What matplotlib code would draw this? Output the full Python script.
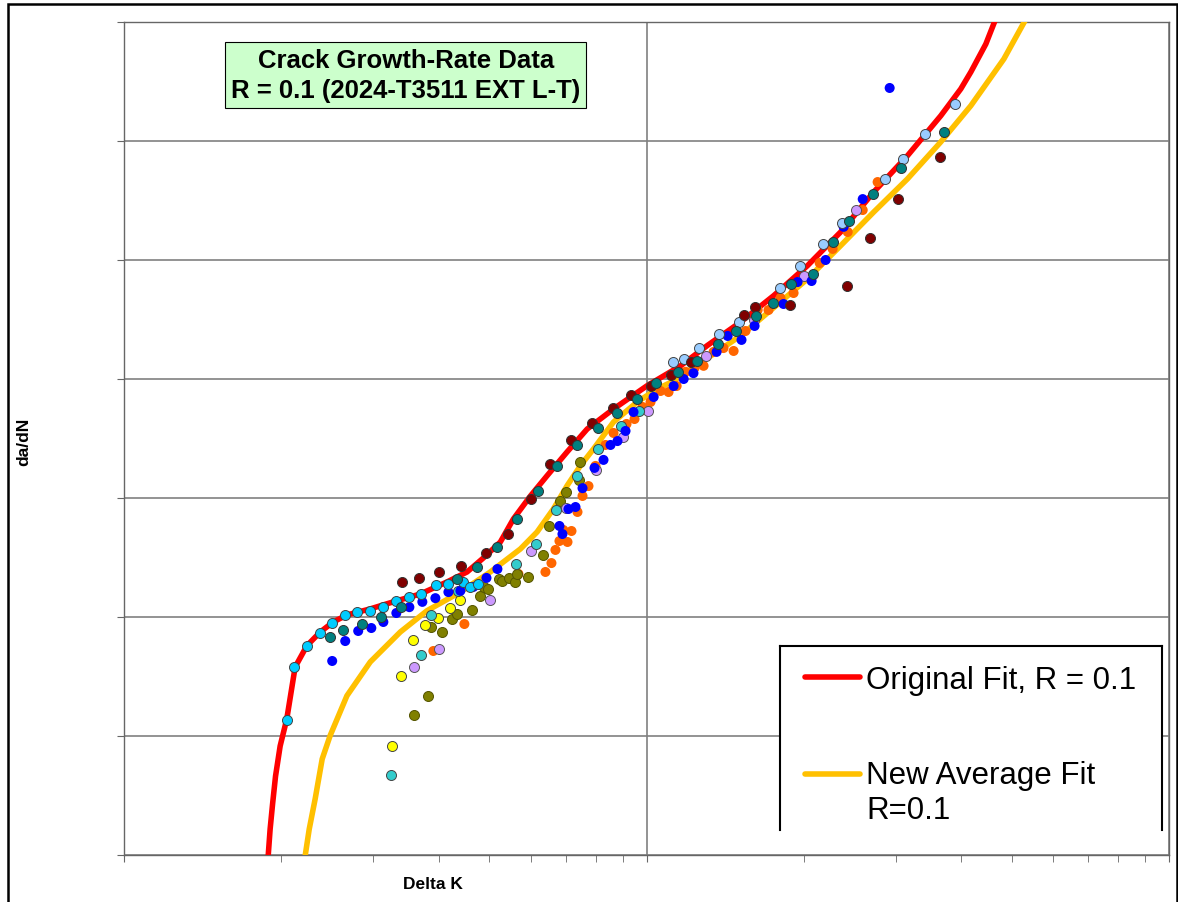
import numpy as np
import matplotlib
matplotlib.use('Agg')
import matplotlib.pyplot as plt
from matplotlib.patches import Rectangle
from matplotlib.lines import Line2D
from matplotlib.legend_handler import HandlerLine2D

plt.rcParams['font.family'] = ['Liberation Sans', 'DejaVu Sans']

# --- test data (Delta K, da/dN) per specimen ---
maroon_dk = [3.41, 3.675, 4.015, 4.42, 4.94, 5.42, 6.00, 6.549, 7.185, 7.85, 8.61, 9.36, 10.18, 11.12,
             12.14, 15.34, 16.10, 18.78, 24.16, 26.73, 30.25, 36.41]
maroon_dadn = [1.97e-7, 2.13e-7, 2.39e-7, 2.68e-7, 3.45e-7, 4.98e-7, 9.81e-7, 1.93e-6, 3.07e-6, 4.27e-6,
               5.70e-6, 7.34e-6, 8.73e-6, 1.08e-5, 1.39e-5, 3.45e-5, 4.03e-5, 4.19e-5, 6.04e-5, 1.53e-4,
               3.25e-4, 7.34e-4]

teal_dk = [2.481, 2.627, 2.857, 3.108, 3.395, 4.346, 4.747, 5.184, 5.663, 6.211, 6.755, 7.378, 8.058, 8.762,
           9.57, 10.45, 11.47, 12.47, 13.68, 14.81, 16.17, 17.50, 18.87, 20.79, 22.71, 24.37, 27.09, 30.65, 37.06]
teal_dadn = [6.79e-8, 7.77e-8, 8.73e-8, 1.0e-7, 1.21e-7, 2.09e-7, 2.63e-7, 3.87e-7, 6.66e-7, 1.15e-6, 1.86e-6,
             2.79e-6, 3.87e-6, 5.18e-6, 6.79e-6, 9.26e-6, 1.15e-5, 1.42e-5, 1.97e-5, 2.53e-5, 3.39e-5, 4.35e-5,
             6.28e-5, 7.63e-5, 1.42e-4, 2.13e-4, 3.58e-4, 5.93e-4, 1.19e-3]

cyan_dk = [2.053, 2.117, 2.242, 2.374, 2.503, 2.651, 2.795, 2.961, 3.136, 3.321, 3.517, 3.708, 3.962, 4.177,
           4.462, 4.602, 4.768]
cyan_dadn = [1.36e-8, 3.80e-8, 5.70e-8, 7.34e-8, 8.90e-8, 1.04e-7, 1.10e-7, 1.12e-7, 1.21e-7, 1.36e-7, 1.47e-7,
             1.56e-7, 1.86e-7, 1.90e-7, 1.97e-7, 1.79e-7, 1.90e-7]

turq_dk = [3.248, 3.708, 3.875, 4.365, 5.638, 6.158, 6.725, 7.378, 8.058, 8.918, 9.655]
turq_dadn = [4.70e-9, 4.80e-8, 1.04e-7, 1.66e-7, 2.79e-7, 4.10e-7, 7.93e-7, 1.53e-6, 2.58e-6, 4.03e-6, 5.38e-6]

blue_dk = [2.503, 2.651, 2.807, 2.974, 3.136, 3.321, 3.517, 3.724, 3.944, 4.177, 4.404, 4.663, 4.94, 5.184,
           6.814, 6.905, 7.09, 7.313, 7.543, 7.952, 8.274, 8.533, 8.80, 9.117, 9.444, 10.32, 11.27, 11.78,
           12.30, 13.62, 14.30, 15.20, 16.10, 18.29, 19.46, 20.70, 22.02, 23.84, 25.93, 29.20]
blue_dadn = [4.27e-8, 6.28e-8, 7.63e-8, 8.08e-8, 9.08e-8, 1.08e-7, 1.21e-7, 1.34e-7, 1.44e-7, 1.62e-7, 1.66e-7,
             1.79e-7, 2.13e-7, 2.53e-7, 5.82e-7, 4.98e-7, 8.08e-7, 8.40e-7, 1.21e-6, 1.79e-6, 2.09e-6, 2.79e-6,
             3.01e-6, 3.66e-6, 5.28e-6, 7.06e-6, 8.73e-6, 1.0e-5, 1.12e-5, 1.69e-5, 2.30e-5, 2.13e-5, 2.79e-5,
             4.27e-5, 6.53e-5, 6.66e-5, 1.0e-4, 1.90e-4, 3.25e-4, 2.79e-3]

yellow_dk = [3.263, 3.395, 3.579, 3.774, 3.997, 4.214, 4.404]
yellow_dadn = [8.24e-9, 3.19e-8, 6.41e-8, 8.57e-8, 9.81e-8, 1.19e-7, 1.39e-7]

olive_dk = [3.596, 3.824, 3.875, 4.068, 4.251, 4.346, 4.643, 4.81, 4.896, 4.983, 5.23, 5.30, 5.466, 5.613,
            5.663, 5.944, 6.35, 6.52, 6.844, 7.028, 7.443, 7.476]
olive_dadn = [1.50e-8, 2.17e-8, 8.24e-8, 7.48e-8, 9.62e-8, 1.06e-7, 1.15e-7, 1.50e-7, 1.79e-7, 1.72e-7, 2.09e-7,
              2.01e-7, 2.13e-7, 1.97e-7, 2.30e-7, 2.17e-7, 3.32e-7, 5.82e-7, 9.44e-7, 1.12e-6, 1.42e-6, 2.01e-6]

orange_dk = [3.909, 4.482, 5.687, 6.406, 6.578, 6.695, 6.814, 7.06, 7.185, 6.935, 7.378, 7.543, 7.744, 7.987,
             8.347, 8.647, 9.157, 9.486, 9.827, 10.18, 10.64, 11.02, 11.42, 11.88, 12.36, 12.86, 13.44, 14.04,
             14.68, 15.47, 16.32, 17.12, 18.05, 19.12, 21.45, 22.71, 24.27, 25.93, 27.69]
orange_dadn = [5.18e-8, 8.73e-8, 2.30e-7, 2.39e-7, 2.84e-7, 3.66e-7, 4.35e-7, 4.27e-7, 5.28e-7, 5.38e-7,
               7.63e-7, 1.04e-6, 1.26e-6, 1.86e-6, 2.79e-6, 3.52e-6, 4.19e-6, 4.61e-6, 5.82e-6, 6.41e-6,
               7.93e-6, 7.77e-6, 8.73e-6, 1.15e-5, 1.24e-5, 1.29e-5, 1.69e-5, 1.82e-5, 1.72e-5, 2.53e-5,
               3.80e-5, 3.80e-5, 4.80e-5, 5.28e-5, 9.44e-5, 1.24e-4, 1.72e-4, 2.63e-4, 4.52e-4]

lavender_dk = [3.596, 4.015, 5.027, 6.023, 7.028, 8.022, 9.036, 10.05, 12.97, 16.03, 19.98, 25.14]
lavender_dadn = [3.80e-8, 5.38e-8, 1.39e-7, 3.58e-7, 8.24e-7, 1.72e-6, 3.25e-6, 5.38e-6, 1.56e-5, 3.13e-5,
                 7.34e-5, 2.63e-4]

ltblue_dk = [11.22, 11.78, 12.58, 13.74, 15.00, 17.97, 19.63, 21.73, 23.63, 28.56, 30.92, 34.08, 38.90]
ltblue_dadn = [1.39e-5, 1.47e-5, 1.82e-5, 2.39e-5, 3.01e-5, 5.82e-5, 8.90e-5, 1.36e-4, 2.05e-4, 4.80e-4,
               7.06e-4, 1.15e-3, 2.05e-3]

# --- fit curves ---
orig_dk = [1.885, 1.904, 1.925, 1.950, 1.990, 2.049, 2.126, 2.239, 2.375, 2.514, 2.671, 2.960, 3.330, 3.690,
           4.151, 4.535, 4.896, 5.252, 5.563, 5.996, 6.453, 7.048, 7.700, 8.647, 10.03, 11.62, 13.07, 15.14,
           17.51, 20.32, 23.53, 27.22, 31.58, 36.58, 39.95, 41.76, 44.61, 47.0]
orig_dadn = [9.0e-10, 1.65e-9, 2.7e-9, 4.6e-9, 8.24e-9, 1.39e-8, 3.80e-8, 5.74e-8, 7.48e-8, 9.08e-8, 1.04e-7,
             1.17e-7, 1.37e-7, 1.56e-7, 1.97e-7, 2.39e-7, 3.19e-7, 4.27e-7, 6.67e-7, 1.04e-6, 1.54e-6, 2.44e-6,
             3.80e-6, 5.60e-6, 8.79e-6, 1.29e-5, 1.91e-5, 3.01e-5, 5.01e-5, 8.95e-5, 1.72e-4, 3.73e-4, 7.52e-4,
             1.63e-3, 2.74e-3, 3.80e-3, 6.53e-3, 1.17e-2]

new_dk = [2.215, 2.262, 2.322, 2.395, 2.481, 2.671, 2.960, 3.379, 3.802, 4.402, 5.024, 5.736, 6.174, 6.634,
          7.048, 7.474, 7.915, 8.647, 9.60, 10.48, 11.27, 15.14, 20.32, 23.53, 27.22, 31.58, 36.58, 41.76,
          48.3, 53.9]
new_dadn = [9.0e-10, 1.65e-9, 2.96e-9, 6.41e-9, 1.01e-8, 2.18e-8, 4.19e-8, 7.48e-8, 1.13e-7, 1.62e-7, 2.39e-7,
            3.73e-7, 5.18e-7, 8.09e-7, 1.27e-6, 1.87e-6, 2.58e-6, 4.35e-6, 6.41e-6, 8.24e-6, 9.62e-6, 2.31e-5,
            6.92e-5, 1.32e-4, 2.53e-4, 4.80e-4, 9.82e-4, 1.98e-3, 4.89e-3, 1.17e-2]

series = [
    (orange_dk, orange_dadn, '#FF6600', 'none'),
    (olive_dk, olive_dadn, '#808000', '#555500'),
    (yellow_dk, yellow_dadn, '#FFFF00', '#444444'),
    (lavender_dk, lavender_dadn, '#CC99FF', '#555555'),
    (turq_dk, turq_dadn, '#33CCCC', '#444444'),
    (blue_dk, blue_dadn, '#0000FF', 'none'),
    (cyan_dk, cyan_dadn, '#00CCFF', '#444444'),
    (ltblue_dk, ltblue_dadn, '#99CCFF', '#444444'),
    (maroon_dk, maroon_dadn, '#800000', '#333333'),
    (teal_dk, teal_dadn, '#008080', '#333333'),
]


class RaisedLine(HandlerLine2D):
    # put the legend line next to the first row of a two-row label
    def __init__(self, dy=0.0, **kw):
        super().__init__(**kw)
        self.dy = dy

    def create_artists(self, legend, orig_handle, xdescent, ydescent, width, height, fontsize, trans):
        arts = super().create_artists(legend, orig_handle, xdescent, ydescent, width, height, fontsize, trans)
        for a in arts:
            a.set_ydata(np.asarray(a.get_ydata()) + self.dy * fontsize)
        return arts


fig = plt.figure(figsize=(11.78, 9.03), dpi=100)
ax = fig.add_axes([124 / 1178, 1 - 856 / 903, 1045 / 1178, 833 / 903])
ax.set_xscale('log')
ax.set_yscale('log')
ax.set_xlim(1, 100)
ax.set_ylim(1e-9, 1e-2)

l_orig, = ax.plot(orig_dk, orig_dadn, color='#FF0000', lw=4, solid_capstyle='round', solid_joinstyle='round',
                  zorder=3)
l_new, = ax.plot(new_dk, new_dadn, color='#FFC000', lw=4, solid_capstyle='round', solid_joinstyle='round',
                 zorder=3)

for dk, dadn, fc, ec in series:
    ax.scatter(dk, dadn, s=52, c=fc, edgecolors=ec, linewidths=0.7, zorder=4)

ax.grid(True, which='major', color='#808080', lw=1.2)
ax.set_axisbelow(True)
for sp in ax.spines.values():
    sp.set_color('#666666')
    sp.set_linewidth(1.0)
ax.tick_params(which='both', direction='out', length=5, color='#666666', labelbottom=False, labelleft=False)
ax.tick_params(axis='y', which='minor', length=0)

ax.set_xlabel('Delta K', fontsize=12.5, fontweight='bold')
ax.xaxis.set_label_coords((433 - 124) / 1045, -(877 - 856) / 833)
ax.set_ylabel('da/dN', fontsize=12.5, fontweight='bold')
ax.yaxis.set_label_coords(-(124 - 31) / 1045, 0.497)

ax.text(0.2695, 0.936, 'Crack Growth-Rate Data\nR = 0.1 (2024-T3511 EXT L-T)', transform=ax.transAxes,
        ha='center', va='center', fontsize=18.5, fontweight='bold', linespacing=1.3, zorder=6,
        bbox=dict(boxstyle='square,pad=0.24', fc='#CCFFCC', ec='black', lw=0.8))

# legend panel: white, open at the bottom
lx0, lx1 = (780 - 124) / 1045, (1162 - 124) / 1045
ly0, ly1 = (856 - 831) / 833, (856 - 647) / 833
ax.add_patch(Rectangle((lx0, 0.002), lx1 - lx0, ly1 - 0.002, transform=ax.transAxes,
                       fc='white', ec='none', zorder=5))
for xs, ys in [([lx0, lx0], [ly0, ly1]), ([lx0, lx1], [ly1, ly1]), ([lx1, lx1], [ly0, ly1])]:
    ax.add_line(Line2D(xs, ys, transform=ax.transAxes, color='black', lw=1.5, zorder=6))

leg = ax.legend([l_orig, l_new], ['Original Fit, R = 0.1', 'New Average Fit\nR=0.1'],
                loc='upper left', bbox_to_anchor=(805 / 1178, 1 - 666 / 903), bbox_transform=fig.transFigure,
                frameon=False, fontsize=22.5, handlelength=1.75, handletextpad=0.2, labelspacing=2.08,
                borderpad=0, borderaxespad=0,
                handler_map={l_new: RaisedLine(dy=0.6)})
leg.set_zorder(7)

fig.add_artist(Rectangle((8 / 1178, -0.02), 1169 / 1178, 1 - 5 / 903 + 0.02, transform=fig.transFigure,
                         fill=False, ec='black', lw=1.8))

fig.savefig('out.png', dpi=100)
